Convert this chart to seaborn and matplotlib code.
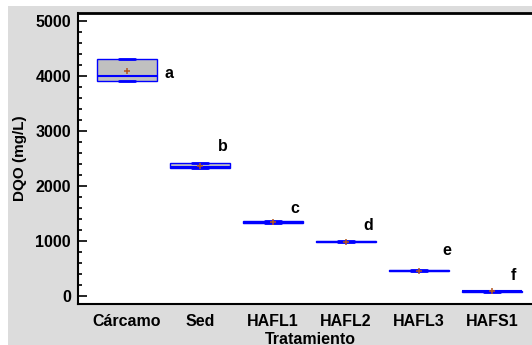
#!/usr/bin/env python
"""Box-and-whisker plot of DQO (mg/L) per treatment stage."""
import pandas as pd
import matplotlib.pyplot as plt
from matplotlib.patches import Rectangle
from matplotlib.ticker import MultipleLocator
import seaborn as sns

# --- Data (replicate readings per treatment, mg/L) ---
treatments = ["Cárcamo", "Sed", "HAFL1", "HAFL2", "HAFL3", "HAFS1"]
carcamo = [3900, 3900, 4000, 4300, 4300]
sed = [2330, 2330, 2350, 2410, 2410]
hafl1 = [1320, 1320, 1335, 1355, 1355]
hafl2 = [975, 975, 990, 1000, 1000]
hafl3 = [450, 450, 460, 470, 470]
hafs1 = [78, 78, 85, 92, 92]

# homogeneous group letters and the height they are written at
group_letters = ["a", "b", "c", "d", "e", "f"]
letter_y = [4036, 2709, 1582, 1273, 818, 364]
letter_dx = [0.575, 0.315, 0.30, 0.30, 0.38, 0.29]

samples = [carcamo, sed, hafl1, hafl2, hafl3, hafs1]
df = pd.DataFrame({
    "Tratamiento": [t for t, s in zip(treatments, samples) for _ in s],
    "DQO": [v for s in samples for v in s],
})

sns.set_style("white")
plt.rcParams["font.family"] = ["Liberation Sans", "DejaVu Sans"]
plt.rcParams["font.weight"] = "bold"
plt.rcParams["text.color"] = "black"
plt.rcParams["axes.labelcolor"] = "black"
plt.rcParams["xtick.color"] = "black"
plt.rcParams["ytick.color"] = "black"

fig = plt.figure(figsize=(5.32, 3.45), dpi=100)
fig.patches.append(Rectangle((8 / 532, 0), 1, 1 - 6 / 345, transform=fig.transFigure,
                             facecolor="#dcdcdc", edgecolor="none", zorder=-1))
ax = fig.add_axes([78 / 532, 41 / 345, 464 / 532, 291 / 345])
ax.set_facecolor("white")

sns.boxplot(data=df, x="Tratamiento", y="DQO", order=treatments,
            color="#c0c0c0", linecolor="#0000ff", saturation=1, width=0.82,
            linewidth=1.0, showmeans=True,
            meanprops=dict(marker="+", markeredgecolor="#b5561d", markersize=4.5,
                           markeredgewidth=1.1),
            medianprops=dict(color="#0000ff", linewidth=1.5),
            capprops=dict(color="#0000ff", linewidth=2.0),
            whiskerprops=dict(color="#0000ff", linewidth=1.0),
            ax=ax)

# narrower whisker caps, as in the original software
for line in ax.lines:
    if line.get_linewidth() == 2.0:
        xs = line.get_xdata()
        mid = (xs[0] + xs[1]) / 2
        line.set_xdata([mid - 0.11, mid + 0.11])

for i, (lab, y, dx) in enumerate(zip(group_letters, letter_y, letter_dx)):
    ax.text(i + dx, y, lab, ha="center", va="center", fontsize=11.5, weight="bold")

ax.set_xlim(-0.671, 5.685)
ax.set_ylim(-145, 5140)
ax.yaxis.set_major_locator(MultipleLocator(1000))
ax.yaxis.set_minor_locator(MultipleLocator(200))
ax.tick_params(axis="y", which="major", direction="in", length=6.5, width=1.2,
               pad=5, labelsize=11.5, left=True)
ax.tick_params(axis="y", which="minor", direction="in", length=3, width=1.2, left=True)
ax.tick_params(axis="x", length=0, pad=7, labelsize=11.5)

for side in ["left", "top", "bottom"]:
    ax.spines[side].set_visible(True)
    ax.spines[side].set_color("black")
    ax.spines[side].set_linewidth(1.5)
ax.spines["top"].set_linewidth(2)
ax.spines["right"].set_visible(False)

ax.set_xlabel("Tratamiento", fontsize=11.5, weight="bold", labelpad=2)
ax.set_ylabel("DQO (mg/L)", fontsize=11, weight="bold", labelpad=6)

fig.savefig("out.png", dpi=100)
